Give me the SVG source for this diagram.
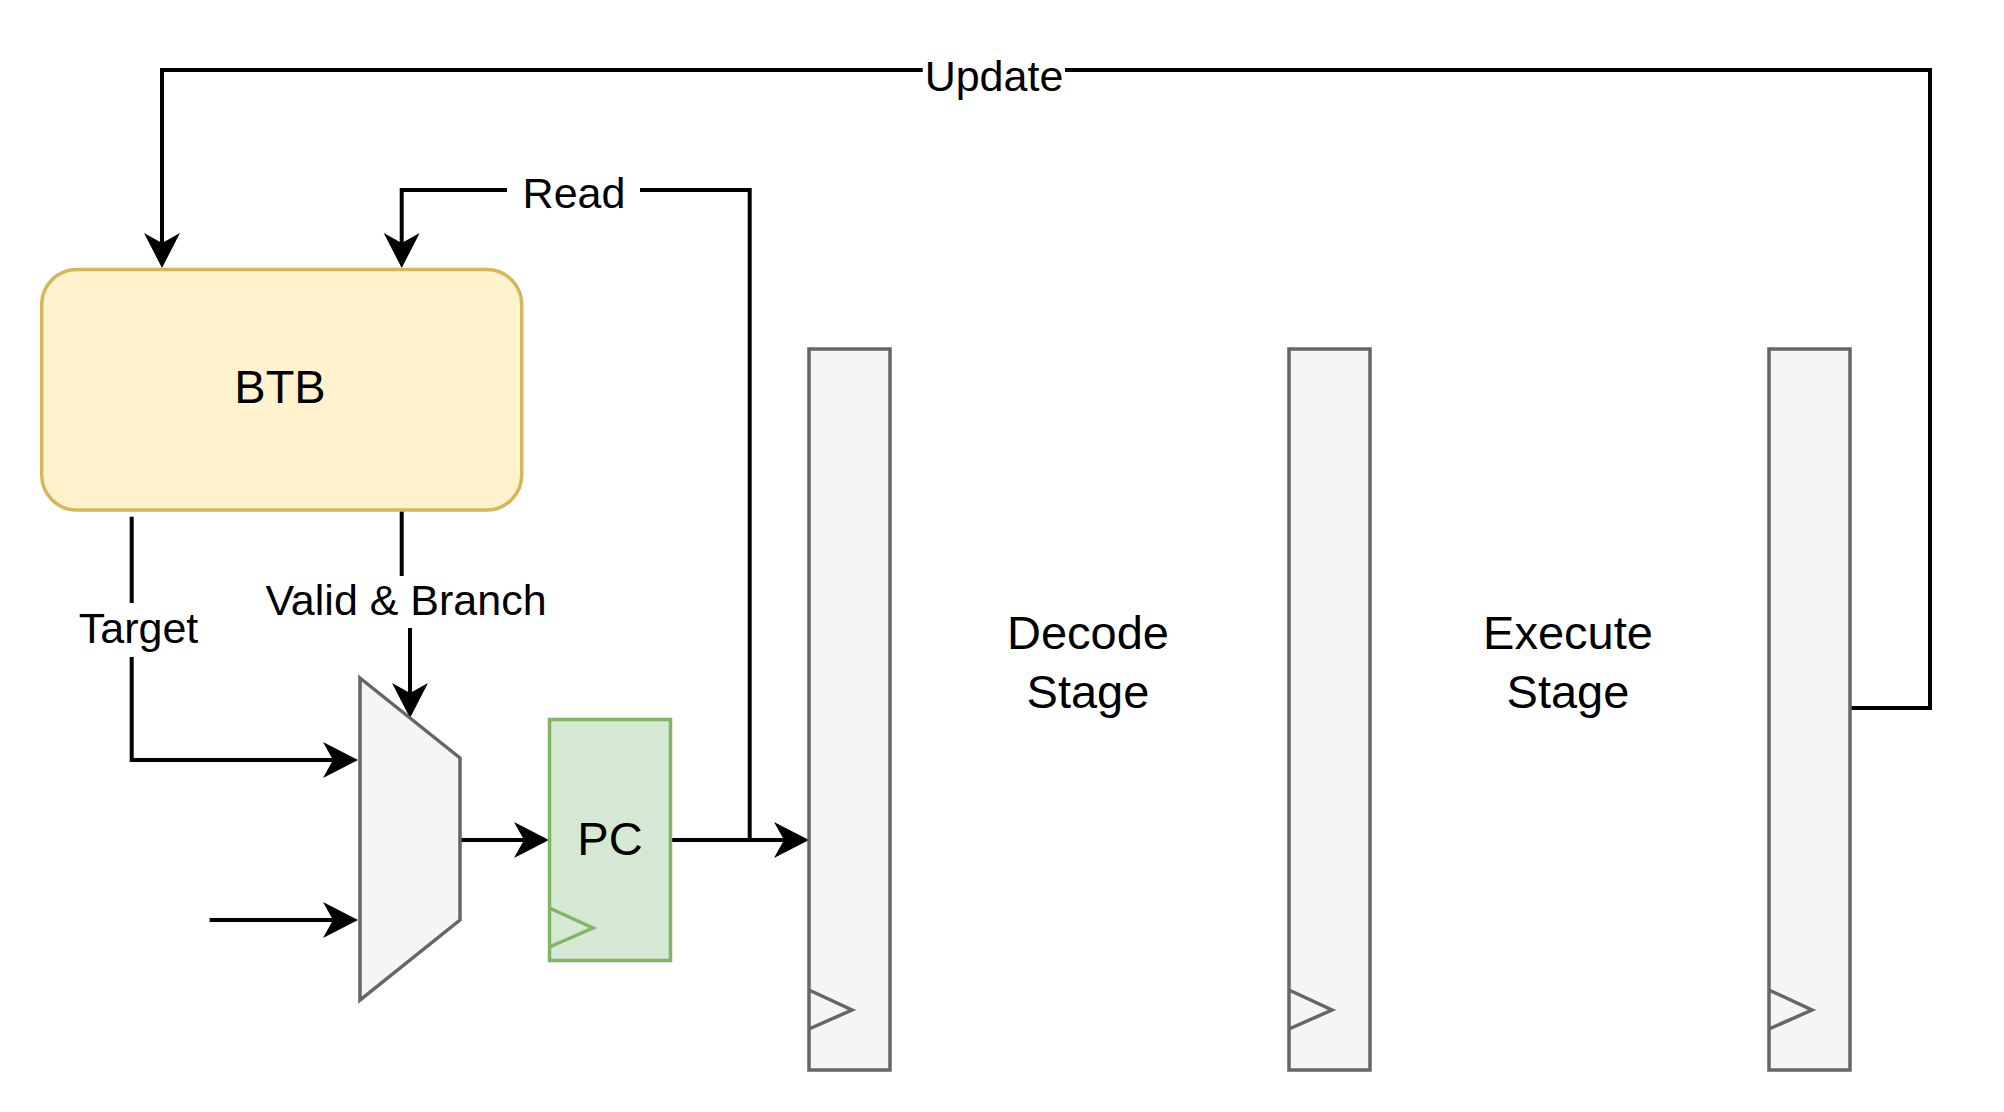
<svg xmlns="http://www.w3.org/2000/svg" width="2004" height="1112" viewBox="0 0 2004 1112">
<style>
  .lbl { font-family: "Liberation Sans", Arial, sans-serif; font-size: 43px; fill: #000; text-anchor: middle; }
  .big { font-family: "Liberation Sans", Arial, sans-serif; font-size: 47px; fill: #000; text-anchor: middle; }
  .wire { fill: none; stroke: #000; stroke-width: 4; }
  .arr { marker-end: url(#arrow); }
  .reg { fill: #f5f5f5; stroke: #666666; stroke-width: 3.5; }
  .clk { fill: none; stroke: #666666; stroke-width: 3.5; }
  .bg { fill: #ffffff; stroke: none; }
</style>
<defs>
  <marker id="arrow" markerUnits="userSpaceOnUse" viewBox="-36 -19 37 38" markerWidth="37" markerHeight="38" refX="-20" refY="0" orient="auto">
    <path d="M0,0 L-35,-18 L-25,0 L-35,18 Z" fill="#000"/>
  </marker>
</defs>
<rect width="2004" height="1112" fill="#ffffff"/>

<g id="connectors">
  <path class="wire arr" d="M1850,708 H1930 V70 H162 V248"/>
  <path class="wire arr" d="M749.7,840 V190 H401.7 V248"/>
  <path class="wire arr" d="M131.7,516.7 V760 H338"/>
  <path class="wire arr" d="M401.7,510 V600 H410 V698"/>
  <path class="wire arr" d="M209.6,920 H338"/>
  <path class="wire arr" d="M460,840 H529"/>
  <path class="wire arr" d="M670.5,840 H789"/>
  <rect class="bg" x="922.7" y="60" width="142.3" height="20"/>
  <text class="lbl" x="994" y="91">Update</text>
  <rect class="bg" x="507" y="180" width="133" height="20"/>
  <text class="lbl" x="574" y="208">Read</text>
  <rect class="bg" x="122" y="603" width="20" height="54"/>
  <text class="lbl" x="138.5" y="643">Target</text>
  <rect class="bg" x="392" y="576" width="28" height="52"/>
  <text class="lbl" x="406" y="615">Valid &amp; Branch</text>
</g>

<g id="btb">
  <rect x="41.7" y="269.5" width="480" height="240.5" rx="35" ry="35" fill="#fff2cc" stroke="#d6b656" stroke-width="3.5"/>
  <text class="big" x="280" y="403">BTB</text>
</g>

<g id="mux">
  <polygon points="360,678 460,758 460,920 360,1000" fill="#f5f5f5" stroke="#666666" stroke-width="3.5"/>
</g>

<g id="pc">
  <rect x="549.5" y="719.5" width="121" height="241" fill="#d5e8d4" stroke="#82b366" stroke-width="3.5"/>
  <polyline points="549.5,908 593,928 549.5,947" fill="none" stroke="#82b366" stroke-width="3.5"/>
  <text class="big" x="610" y="855">PC</text>
</g>

<g id="reg1">
  <rect class="reg" x="809" y="349" width="81" height="721"/>
  <polyline class="clk" points="809,990 852,1010 809,1029"/>
</g>

<g id="decode-label">
  <text class="big" x="1088" y="648.5">Decode</text>
  <text class="big" x="1088" y="708">Stage</text>
</g>

<g id="reg2">
  <rect class="reg" x="1289" y="349" width="81" height="721"/>
  <polyline class="clk" points="1289,990 1332,1010 1289,1029"/>
</g>

<g id="execute-label">
  <text class="big" x="1568" y="648.5">Execute</text>
  <text class="big" x="1568" y="708">Stage</text>
</g>

<g id="reg3">
  <rect class="reg" x="1769" y="349" width="81" height="721"/>
  <polyline class="clk" points="1769,990 1812,1010 1769,1029"/>
</g>
</svg>
